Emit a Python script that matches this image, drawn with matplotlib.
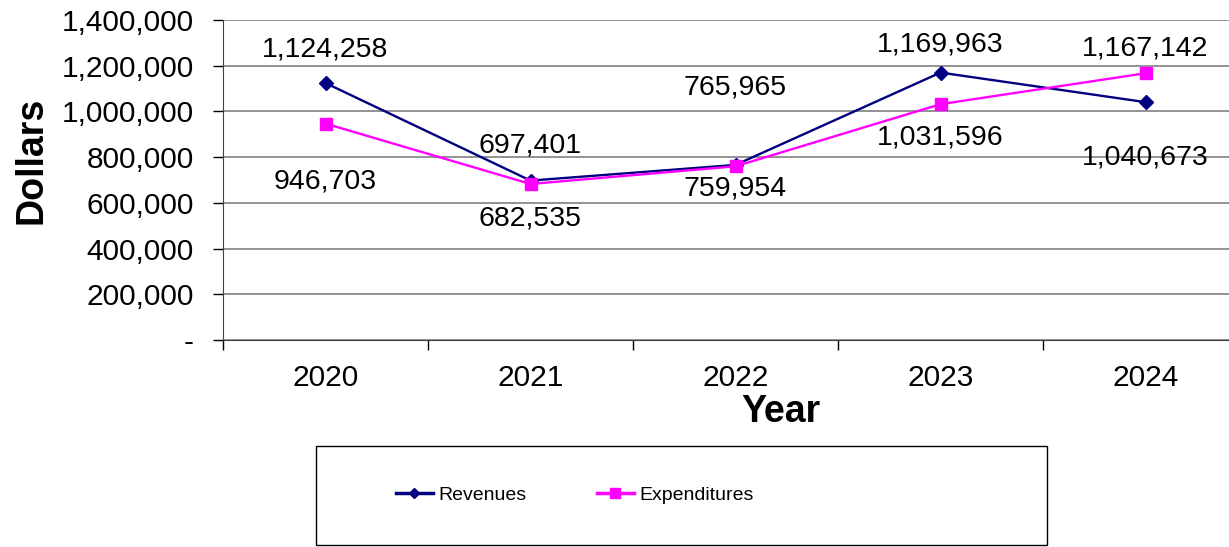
import numpy as np
import matplotlib.pyplot as plt
from matplotlib.patches import Rectangle
from matplotlib.ticker import FuncFormatter, FixedLocator

plt.rcParams['font.family'] = ['Liberation Sans', 'DejaVu Sans']

######### Data
years = ["2020", "2021", "2022", "2023", "2024"]
revenues = [1124258, 697401, 765965, 1169963, 1040673]
expenditures = [946703, 682535, 759954, 1031596, 1167142]

# label offsets in points (x, y) for each point
rev_offsets = [(0, 24), (0, 25), (0, 56), (0, 20), (0, -40)]
exp_offsets = [(0, -42), (0, -25), (0, -16), (0, -24), (0, 18)]

######### Figure
fig = plt.figure(figsize=(12.29, 5.47), dpi=100)
ax = fig.add_axes([223 / 1229, 1 - 340 / 547, 1 - 223 / 1229, 320 / 547])

x = np.arange(len(years))
ax.plot(x, revenues, color="#000080", lw=1.7, marker="D", ms=7, label="Revenues", zorder=3)
ax.plot(x, expenditures, color="#FF00FF", lw=1.7, marker="s", ms=8.5, label="Expenditures", zorder=3)

for i in range(len(years)):
    ax.annotate(f"{revenues[i]:,}", (x[i], revenues[i]), xytext=rev_offsets[i],
                textcoords="offset points", ha="center", va="center", fontsize=20.5)
    ax.annotate(f"{expenditures[i]:,}", (x[i], expenditures[i]), xytext=exp_offsets[i],
                textcoords="offset points", ha="center", va="center", fontsize=20.5)

# axes limits (plot area runs off the right edge of the picture)
ax.set_ylim(0, 1400000)
ax.set_xlim(-0.5, -0.5 + (1229 - 223) / 205)

# y axis
ax.set_yticks(np.arange(0, 1400001, 200000))
ax.yaxis.set_major_formatter(FuncFormatter(lambda v, p: "-" if v == 0 else f"{v:,.0f}"))
ax.tick_params(axis="y", direction="out", length=7, width=1, labelsize=21.5, pad=14)
ax.grid(axis="y", color="#808080", lw=1.2)
ax.set_axisbelow(True)

# x axis: ticks between categories, labels at centers
ax.xaxis.set_major_locator(FixedLocator(np.arange(-0.5, 5, 1)))
ax.xaxis.set_minor_locator(FixedLocator(x))
ax.xaxis.set_major_formatter(FuncFormatter(lambda v, p: ""))
ax.set_xticklabels(years, minor=True)
ax.tick_params(axis="x", which="major", direction="out", length=7, width=1)
ax.tick_params(axis="x", which="minor", length=0, labelsize=21.5, pad=17)

for s in ["top", "right"]:
    ax.spines[s].set_visible(False)
ax.spines["left"].set_color("#404040")
ax.spines["bottom"].set_color("#404040")

ax.set_xlabel("Year", fontsize=27, fontweight="bold")
ax.xaxis.set_label_coords((781 - 223) / (1229 - 223), -(394 - 340) / 320)
ax.set_ylabel("Dollars", fontsize=27, fontweight="bold")
ax.yaxis.set_label_coords(-(223 - 50) / (1229 - 223), (340 - 160) / 320)

##### Legend box
fig.add_artist(Rectangle((316 / 1229, 0.003), (1047 - 316) / 1229, (546 - 447) / 547,
                         transform=fig.transFigure, fill=False, ec="black", lw=1))
h, l = ax.get_legend_handles_labels()
leg = fig.legend(h, l, loc="center", bbox_to_anchor=(575 / 1229, 1 - 495 / 547), ncol=2,
                 frameon=False, fontsize=14, handlelength=1.9, handletextpad=0.3,
                 columnspacing=3.6, markerscale=0.8)
for ln in leg.get_lines():
    ln.set_linewidth(2.5)

plt.savefig("out.png", dpi=100)
